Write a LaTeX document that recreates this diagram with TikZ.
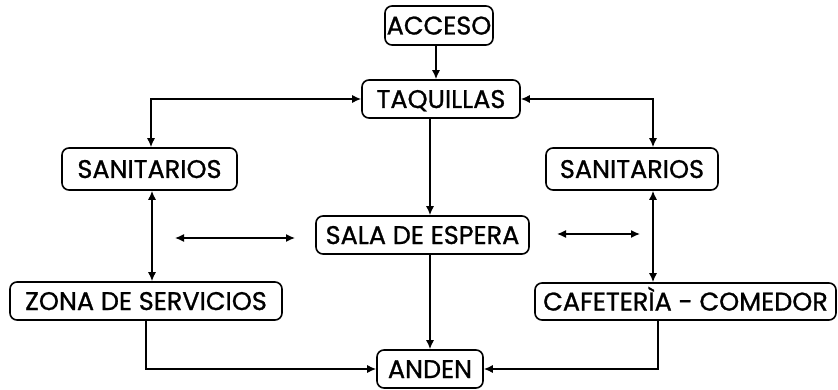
\documentclass[tikz,border=0pt]{standalone}
\usepackage{fontspec}
\setmainfont{Poppins}
\newfontfamily\boxfont{Poppins}[FakeBold=1]
\usetikzlibrary{arrows.meta}
\begin{document}
\begin{tikzpicture}[x=1pt,y=-1pt,
  box/.style={draw, rounded corners=7pt, line width=1.6pt, inner sep=0pt,
    font=\boxfont\fontsize{25.5}{30}\selectfont, text height=18pt, text depth=0pt},
  conn/.style={line width=1.4pt, -{Latex[length=9pt,width=8pt]}},
  bconn/.style={line width=1.4pt, {Latex[length=9pt,width=8pt]}-{Latex[length=9pt,width=8pt]}}]
\useasboundingbox (0,0) rectangle (838,390);
\node[box, minimum width=108pt, minimum height=39pt] (acc) at (439,25.5) {ACCESO};
\node[box, minimum width=158pt, minimum height=38pt] (taq) at (441,99) {TAQUILLAS};
\node[box, minimum width=175pt, minimum height=42pt] (sanl) at (149.5,169) {SANITARIOS};
\node[box, minimum width=172pt, minimum height=42pt] (sanr) at (632,169) {SANITARIOS};
\node[box, minimum width=213pt, minimum height=38pt] (sala) at (422.5,235) {SALA DE ESPERA};
\node[box, minimum width=272pt, minimum height=38pt] (zona) at (146,301) {ZONA DE SERVICIOS};
\node[box, minimum width=301pt, minimum height=37pt] (caf) at (685.5,301.5) {CAFETERÌA - COMEDOR};
\node[box, minimum width=106pt, minimum height=38pt] (anden) at (430,369) {ANDEN};
\coordinate (la1) at (175,238);
\coordinate (la2) at (295,238);
\coordinate (ra1) at (557,234);
\coordinate (ra2) at (640,234);
% connectors
\draw[conn] ([xshift=-3pt]acc.south) -- ([xshift=-3pt]acc.south |- taq.north);
\draw[bconn] (taq.west) -| ([xshift=1.5pt]sanl.north);
\draw[bconn] (taq.east) -| ([xshift=21pt]sanr.north);
\draw[conn] ([xshift=-11pt]taq.south) -- ([xshift=-11pt]taq.south |- sala.north);
\draw[bconn] ([xshift=2.5pt]sanl.south) -- ([xshift=2.5pt]sanl.south |- zona.north);
\draw[bconn] ([xshift=21pt]sanr.south) -- ([xshift=21pt]sanr.south |- caf.north);
\draw[conn] (sala.south -| anden.north) -- (anden.north);
\draw[conn] (zona.south) |- (anden.west);
\draw[conn] ([xshift=-27.5pt]caf.south) |- (anden.east);
\draw[bconn] (la1) -- (la2);
\draw[bconn] (ra1) -- (ra2);
\end{tikzpicture}
\end{document}
